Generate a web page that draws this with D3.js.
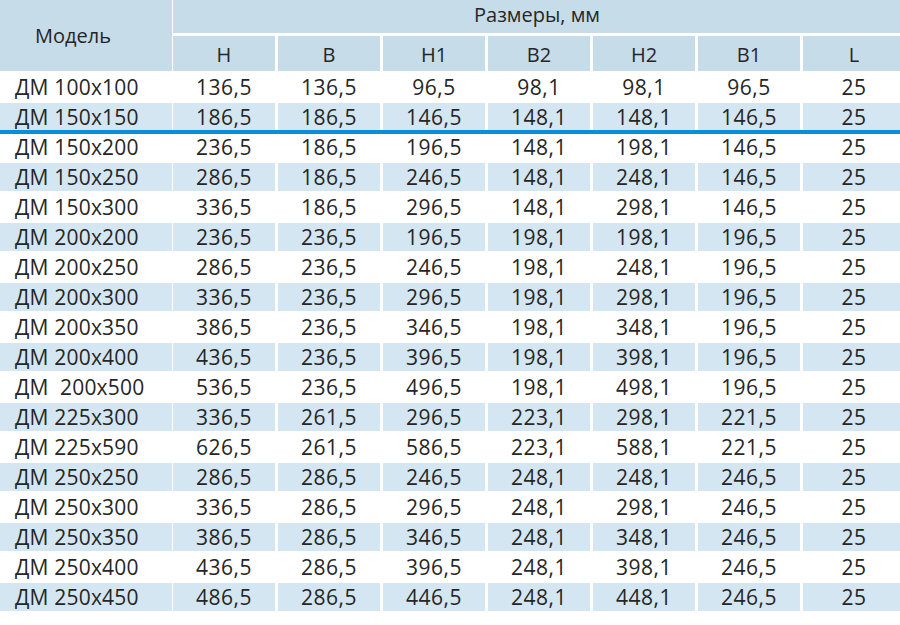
<!DOCTYPE html>
<html>
<head>
<meta charset="utf-8">
<script src="https://cdn.jsdelivr.net/npm/d3@7"></script>
<style>
  body { margin: 0; background: #fff; }
  text { font-family: "Open Sans", "Noto Sans", sans-serif; fill: #262626; }
</style>
</head>
<body>
<script>
// table data, one array per column
var models = ["ДМ 100x100", "ДМ 150x150", "ДМ 150x200", "ДМ 150x250", "ДМ 150x300",
  "ДМ 200x200", "ДМ 200x250", "ДМ 200x300", "ДМ 200x350", "ДМ 200x400", "ДМ  200x500",
  "ДМ 225x300", "ДМ 225x590", "ДМ 250x250", "ДМ 250x300", "ДМ 250x350", "ДМ 250x400", "ДМ 250x450"];
var colNames = ["H", "B", "H1", "B2", "H2", "B1", "L"];
var valH  = [136.5, 186.5, 236.5, 286.5, 336.5, 236.5, 286.5, 336.5, 386.5, 436.5, 536.5, 336.5, 626.5, 286.5, 336.5, 386.5, 436.5, 486.5];
var valB  = [136.5, 186.5, 186.5, 186.5, 186.5, 236.5, 236.5, 236.5, 236.5, 236.5, 236.5, 261.5, 261.5, 286.5, 286.5, 286.5, 286.5, 286.5];
var valH1 = [96.5, 146.5, 196.5, 246.5, 296.5, 196.5, 246.5, 296.5, 346.5, 396.5, 496.5, 296.5, 586.5, 246.5, 296.5, 346.5, 396.5, 446.5];
var valB2 = [98.1, 148.1, 148.1, 148.1, 148.1, 198.1, 198.1, 198.1, 198.1, 198.1, 198.1, 223.1, 223.1, 248.1, 248.1, 248.1, 248.1, 248.1];
var valH2 = [98.1, 148.1, 198.1, 248.1, 298.1, 198.1, 248.1, 298.1, 348.1, 398.1, 498.1, 298.1, 588.1, 248.1, 298.1, 348.1, 398.1, 448.1];
var valB1 = [96.5, 146.5, 146.5, 146.5, 146.5, 196.5, 196.5, 196.5, 196.5, 196.5, 196.5, 221.5, 221.5, 246.5, 246.5, 246.5, 246.5, 246.5];
var valL  = [25, 25, 25, 25, 25, 25, 25, 25, 25, 25, 25, 25, 25, 25, 25, 25, 25, 25];
var columns = [valH, valB, valH1, valB2, valH2, valB1, valL];

var W = 900, H = 625;
var headColor = "#c6dce9";   // header cells
var stripe = "#d4e6f1";      // blue data rows
var fs = 21;

var ru = d3.formatLocale({decimal: ",", thousands: " ", grouping: [3], currency: ["", ""]});
var fmt1 = ru.format(".1f"), fmt0 = ru.format("d");

var svg = d3.select("body").append("svg")
    .attr("width", W)
    .attr("height", H);

// scales: columns and rows
var x = d3.scaleBand().domain(colNames).range([173, 905]).paddingInner(0.029);
var y = d3.scaleBand().domain(d3.range(models.length)).range([72, 72 + 30 * models.length]);

// header
svg.append("rect").attr("x", 0).attr("y", 0).attr("width", 172).attr("height", 71).attr("fill", headColor);
svg.append("rect").attr("x", x("H")).attr("y", 0).attr("width", W - x("H")).attr("height", 33).attr("fill", headColor);
svg.append("text").attr("x", 73).attr("y", 43).attr("text-anchor", "middle")
    .attr("font-size", 20).text("Модель");
svg.append("text").attr("x", 537).attr("y", 22).attr("text-anchor", "middle")
    .attr("font-size", 20).text("Размеры, мм");

var sub = svg.selectAll("g.sub").data(colNames).enter().append("g").attr("class", "sub");
sub.append("rect")
    .attr("x", function(d) { return x(d); })
    .attr("y", 36)
    .attr("width", x.bandwidth())
    .attr("height", 35)
    .attr("fill", headColor);
sub.append("text")
    .attr("x", function(d) { return x(d) + x.bandwidth() / 2; })
    .attr("y", 62)
    .attr("text-anchor", "middle")
    .attr("font-size", 20)
    .text(function(d) { return d; });

// data rows
var rows = svg.selectAll("g.row").data(models).enter().append("g").attr("class", "row");

rows.filter(function(d, i) { return i % 2 == 1; }).each(function(d) {
  var g = d3.select(this), i = models.indexOf(d);
  g.append("rect").attr("x", 0).attr("y", y(i) + 1).attr("width", 172).attr("height", 28).attr("fill", stripe);
  g.selectAll("rect.c").data(colNames).enter().append("rect").attr("class", "c")
      .attr("x", function(c) { return x(c); })
      .attr("y", y(i) + 1)
      .attr("width", x.bandwidth())
      .attr("height", 28)
      .attr("fill", stripe);
});

rows.append("text")
    .attr("x", 15)
    .attr("y", function(d, i) { return y(i) + 23; })
    .attr("font-size", fs)
    .attr("letter-spacing", 0.2)
    .style("white-space", "pre")
    .attr("xml:space", "preserve")
    .text(function(d) { return d; });

rows.each(function(d, i) {
  d3.select(this).selectAll("text.v").data(colNames).enter().append("text").attr("class", "v")
      .attr("x", function(c) { return x(c) + x.bandwidth() / 2; })
      .attr("y", y(i) + 23)
      .attr("text-anchor", "middle")
      .attr("font-size", fs)
      .attr("letter-spacing", 0.5)
      .text(function(c, j) { return c == "L" ? fmt0(columns[j][i]) : fmt1(columns[j][i]); });
});

// blue divider under second row
svg.append("rect").attr("x", 0).attr("y", y(2) - 2).attr("width", W).attr("height", 4).attr("fill", "#0a8ed8");
</script>
</body>
</html>
